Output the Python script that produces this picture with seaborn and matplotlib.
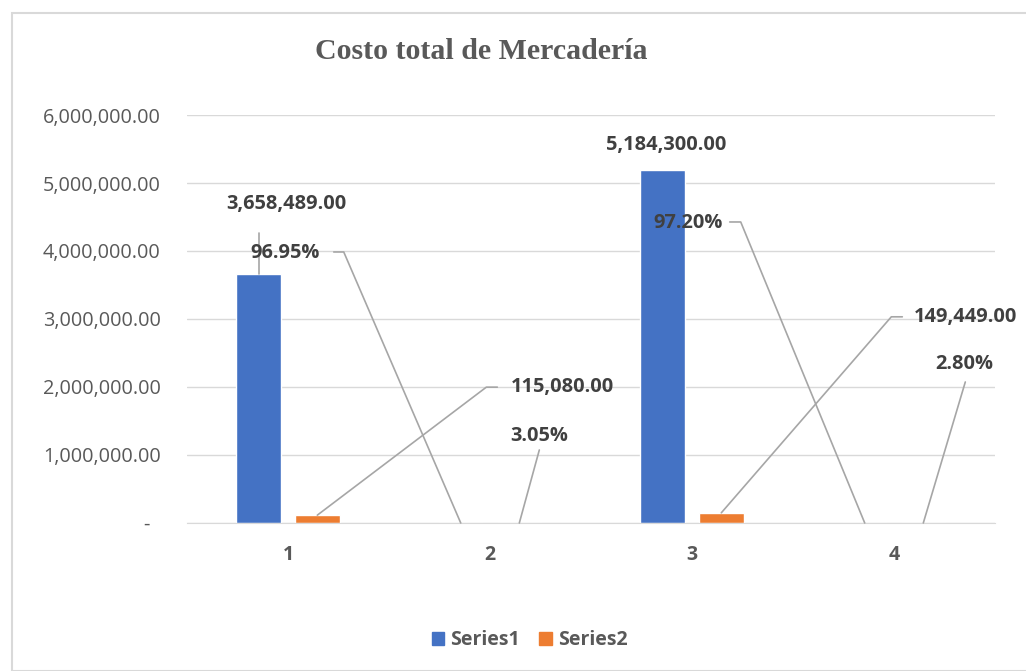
import matplotlib
matplotlib.use("Agg")
import matplotlib.pyplot as plt
import matplotlib.patches as mpatches
from matplotlib.ticker import FuncFormatter, MultipleLocator
import pandas as pd
import seaborn as sns

# Chart data
categories = ["1", "2", "3", "4"]
series1 = [3658489.00, 0.9695, 5184300.00, 0.9720]
series2 = [115080.00, 0.0305, 149449.00, 0.0280]
label1 = ["3,658,489.00", "96.95%", "5,184,300.00", "97.20%"]
label2 = ["115,080.00", "3.05%", "149,449.00", "2.80%"]

# label placement (pixel offsets from the bar top) and leader line points
offs1 = [(28, 70), (-176, 270), (3, 25), (-177, 300)]
lead1 = [[(0, 0), (0, 41)], [(0, 0), (-117, 271), (-127, 271)], [], [(0, 0), (-124, 301), (-135, 301)]]
offs2 = [(245, 128), (20, 87), (244, 196), (41, 159)]
lead2 = [[(0, 0), (169, 128), (180, 128)], [(0, 0), (20, 73)], [(0, 0), (170, 196), (181, 196)], [(0, 0), (42, 141)]]

df = pd.DataFrame({
    "cat": categories * 2,
    "serie": ["Series1"] * 4 + ["Series2"] * 4,
    "valor": series1 + series2,
})

sns.set_style("white")
plt.rcParams["font.family"] = ["Open Sans", "DejaVu Sans"]

colors = {"Series1": "#4472C4", "Series2": "#ED7D31"}
gray = "#595959"

fig = plt.figure(figsize=(10.26, 6.71), dpi=100)
ax = fig.add_axes([0.1823, 0.2206, 0.7875, 0.608])

sns.barplot(data=df, x="cat", y="valor", hue="serie", palette=colors, saturation=1,
            width=0.58, gap=0.23, legend=False, ax=ax)

ax.set_ylim(0, 6000000)
ax.set_xlim(-0.5, 3.5)
ax.yaxis.set_major_locator(MultipleLocator(1000000))
ax.yaxis.set_major_formatter(FuncFormatter(lambda v, p: "-  " if v == 0 else f"{v:,.2f}"))
ax.grid(axis="y", color="#d9d9d9", lw=1)
ax.set_axisbelow(True)
for s in ["left", "right", "top"]:
    ax.spines[s].set_visible(False)
ax.spines["bottom"].set_color("#d9d9d9")
ax.tick_params(axis="y", length=0, pad=19, labelsize=14.3, labelcolor=gray)
ax.tick_params(axis="x", length=0, pad=16, labelsize=14, labelcolor=gray)
for t in ax.get_xticklabels():
    t.set_fontweight("bold")
ax.set_xlabel("")
ax.set_ylabel("")

# data labels with leader lines
def add_labels(container, labels, offs, leads):
    for bar, txt, off, lead in zip(container, labels, offs, leads):
        x = bar.get_x() + bar.get_width() / 2
        y = bar.get_height()
        ax.annotate(txt, xy=(x, y), xytext=off, textcoords="offset pixels",
                    ha="center", va="center", fontsize=14.4, fontweight="bold",
                    color="#404040", annotation_clip=False)
        if lead:
            X, Y = ax.transData.transform((x, y))
            pts = ax.transData.inverted().transform([(X + dx, Y + dy) for dx, dy in lead])
            ax.plot(pts[:, 0], pts[:, 1], color="#a6a6a6", lw=1.2, clip_on=False, zorder=3)

add_labels(ax.containers[0], label1, offs1, lead1)
add_labels(ax.containers[1], label2, offs2, lead2)

fig.text(0.469, 0.923, "Costo total de Mercadería", ha="center", va="center",
         fontsize=21.5, fontweight="bold", color=gray, family="Liberation Serif")

handles = [mpatches.Patch(color=colors[k], label=k) for k in ["Series1", "Series2"]]
leg = fig.legend(handles=handles, loc="center", bbox_to_anchor=(0.516, 0.046), ncol=2,
                 frameon=False, handlelength=0.65, handleheight=0.65, handletextpad=0.3,
                 columnspacing=1.0, prop={"size": 14, "weight": "bold"})
for t in leg.get_texts():
    t.set_color(gray)

# chart border
fig.patches.append(mpatches.Rectangle((12 / 1026, 0), 1.0, 1 - 13 / 671, transform=fig.transFigure,
                                      fill=False, edgecolor="#d9d9d9", lw=1.5))

fig.savefig("out.png", dpi=100)
